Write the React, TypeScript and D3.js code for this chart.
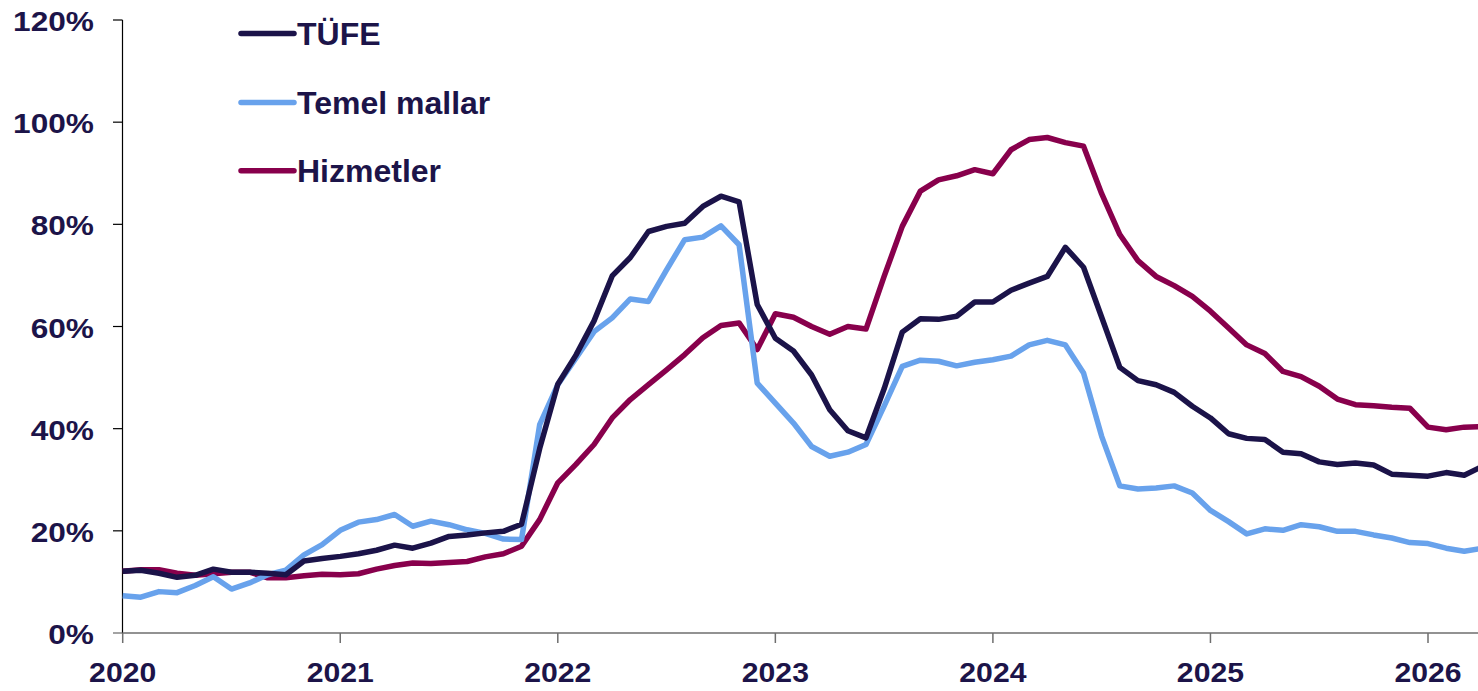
import React from "react";
import * as d3 from "d3";

const yearLabels = ["2020", "2021", "2022", "2023", "2024", "2025", "2026"];
const yTicks = [0, 20, 40, 60, 80, 100, 120];

const tufe = [
  12.1, 12.3, 11.7, 10.9, 11.3, 12.5, 11.9, 11.9, 11.7, 11.4, 14.1, 14.6,
  15.0, 15.5, 16.2, 17.2, 16.6, 17.6, 18.9, 19.2, 19.6, 19.9, 21.3, 36.1,
  48.7, 54.4, 61.1, 69.9, 73.5, 78.6, 79.6, 80.2, 83.5, 85.5, 84.4, 64.3,
  57.7, 55.2, 50.5, 43.7, 39.6, 38.2, 47.8, 58.9, 61.5, 61.4, 62.0, 64.8,
  64.8, 67.1, 68.5, 69.8, 75.5, 71.6, 61.8, 52.0, 49.4, 48.6, 47.1, 44.4,
  42.1, 39.0, 38.1, 37.9, 35.4, 35.1, 33.5, 33.0, 33.3, 32.9, 31.1, 30.9,
  30.7, 31.4, 30.9, 32.6,
];

const temelMallar = [
  7.3, 7.0, 8.1, 7.9, 9.3, 11.0, 8.6, 9.8, 11.4, 12.3, 15.3, 17.3,
  20.1, 21.7, 22.2, 23.2, 20.9, 21.9, 21.2, 20.2, 19.5, 18.4, 18.3, 40.8,
  48.6, 53.8, 59.0, 61.7, 65.4, 64.9, 71.1, 77.0, 77.5, 79.7, 76.0, 48.9,
  45.0, 41.1, 36.5, 34.6, 35.4, 36.9, 44.4, 52.2, 53.4, 53.2, 52.3, 53.0,
  53.5, 54.2, 56.4, 57.3, 56.4, 50.9, 38.5, 28.8, 28.2, 28.4, 28.8, 27.4,
  24.0, 21.8, 19.4, 20.4, 20.1, 21.2, 20.8, 19.9, 19.9, 19.2, 18.6, 17.7,
  17.5, 16.6, 16.0, 16.6,
];

const hizmetler = [
  12.1, 12.4, 12.4, 11.7, 11.3, 11.6, 11.9, 11.9, 10.8, 10.8, 11.2, 11.5,
  11.4, 11.6, 12.5, 13.2, 13.7, 13.6, 13.8, 14.0, 14.9, 15.5, 17.0, 22.2,
  29.4, 33.0, 36.9, 42.1, 45.7, 48.6, 51.5, 54.5, 57.8, 60.2, 60.7, 55.5,
  62.5, 61.8, 60.0, 58.5, 60.0, 59.5, 69.8, 79.6, 86.5, 88.7, 89.5, 90.7,
  89.9, 94.6, 96.6, 97.0, 96.0, 95.3, 86.0, 78.0, 72.9, 69.8, 68.0, 65.9,
  63.0, 59.7, 56.4, 54.7, 51.2, 50.2, 48.3, 45.8, 44.7, 44.5, 44.2, 44.0,
  40.3, 39.8, 40.3, 40.4,
];

const seriesNames = ["TÜFE", "Temel mallar", "Hizmetler"];
const seriesColors = ["#1b1349", "#68a2ec", "#88004c"];
const seriesData = [tufe, temelMallar, hizmetler];

const W = 1478;
const H = 691;
const textColor = "#1c1449";
const font = "'Liberation Sans', Arial, sans-serif";

export default function App() {
  const x = d3.scaleLinear().domain([0, 72]).range([122.7, 1428]);
  const y = d3.scaleLinear().domain([0, 120]).range([633, 20]);
  const line = d3
    .line<number>()
    .x((_, i) => x(i))
    .y((d) => y(d));

  const legendY = [33.5, 102.5, 170.8];

  return (
    <svg
      width={W}
      height={H}
      style={{ position: "absolute", left: 0, top: 0, background: "#fff" }}
      fontFamily={font}
    >
      {/* y axis */}
      <line x1={122.5} x2={122.5} y1={y(120)} y2={y(0)} stroke="#000" strokeWidth={1.2} />
      {yTicks.map((t) => (
        <g key={t}>
          <line x1={113} x2={122.5} y1={y(t)} y2={y(t)} stroke={t === 0 ? "#666" : "#000"} strokeWidth={1.2} />
          <text
            transform={`translate(94,${y(t) + 11}) scale(1.13,1)`}
            textAnchor="end"
            fontSize={28}
            fontWeight="bold"
            fill={textColor}
          >
            {t}%
          </text>
        </g>
      ))}
      {/* x axis */}
      <line x1={122.5} x2={W} y1={y(0)} y2={y(0)} stroke="#6e6e6e" strokeWidth={1.5} />
      {yearLabels.map((lab, k) => (
        <g key={lab}>
          <line x1={x(k * 12)} x2={x(k * 12)} y1={y(0)} y2={y(0) + 10} stroke="#6e6e6e" strokeWidth={1.5} />
          <text
            transform={`translate(${x(k * 12)},682) scale(1.06,1)`}
            textAnchor="middle"
            fontSize={28.5}
            fontWeight="bold"
            fill={textColor}
          >
            {lab}
          </text>
        </g>
      ))}
      {/* series */}
      {[2, 1, 0].map((s) => (
        <path
          key={seriesNames[s]}
          d={line(seriesData[s]) || ""}
          fill="none"
          stroke={seriesColors[s]}
          strokeWidth={5.5}
          strokeLinejoin="round"
        />
      ))}
      {/* legend */}
      {seriesNames.map((n, s) => (
        <g key={n}>
          <line
            x1={241}
            x2={294}
            y1={legendY[s]}
            y2={legendY[s]}
            stroke={seriesColors[s]}
            strokeWidth={5.5}
            strokeLinecap="round"
          />
          <text x={297} y={legendY[s] + 11.5} fontSize={32} fontWeight="bold" fill={textColor}>
            {n}
          </text>
        </g>
      ))}
    </svg>
  );
}
